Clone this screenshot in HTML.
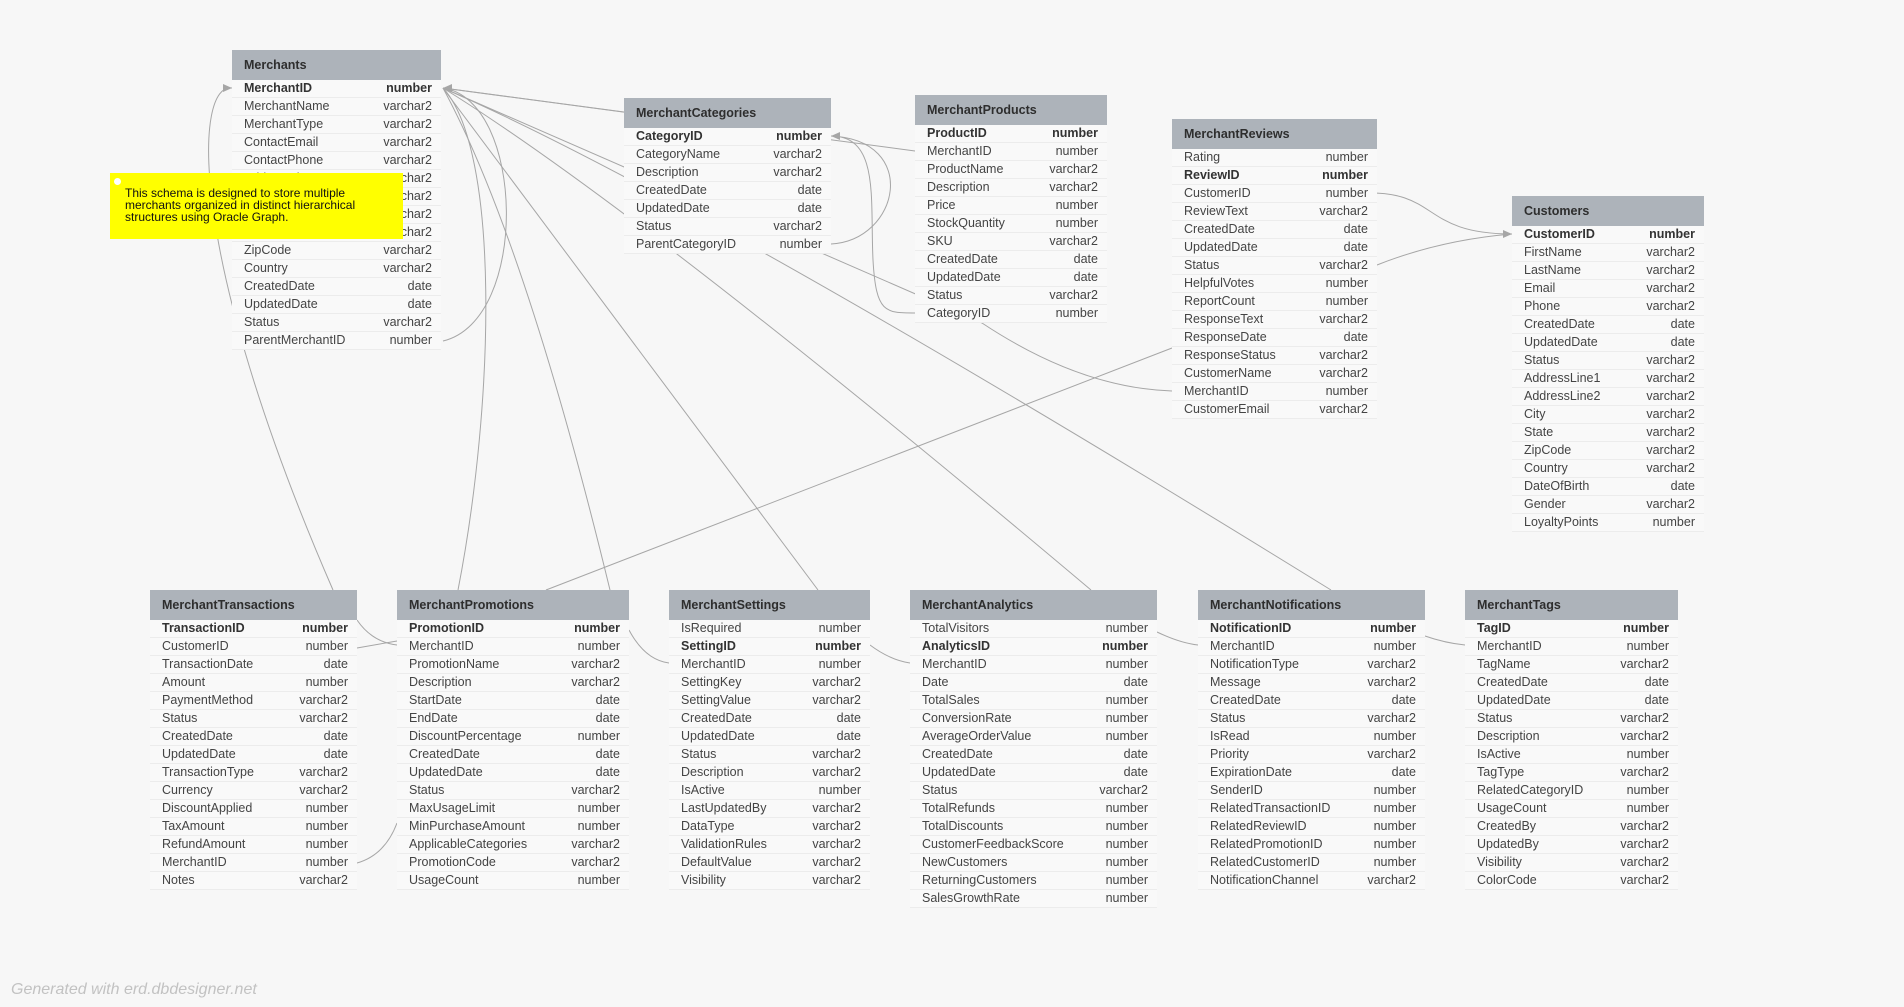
<!DOCTYPE html>
<html><head><meta charset="utf-8">
<style>
html,body{margin:0;padding:0;background:#f7f7f7;width:1904px;height:1007px;overflow:hidden;font-family:"Liberation Sans",sans-serif;}
#wires{position:absolute;left:0;top:0;}
.tbl{position:absolute;}
.hd{height:30px;background:#adb3ba;color:#2e2e2e;font-weight:bold;font-size:12.5px;line-height:30px;padding-left:12px;box-sizing:border-box;}
.row{height:18px;line-height:17px;font-size:12.5px;color:#444;border-bottom:1px solid #ececec;box-sizing:border-box;position:relative;background:#f9f9f9;}
.row .n{position:absolute;left:12px;}
.row .t{position:absolute;right:9px;}
.row.pk{font-weight:bold;color:#333;}
#note{position:absolute;left:110px;top:173px;width:293px;height:66px;background:#ffff00;font-size:12px;line-height:12px;color:#111;box-sizing:border-box;padding:14px 0 0 15px;}
#note .dot{position:absolute;left:4px;top:5px;width:7px;height:7px;border-radius:50%;background:#fff;}
#footer{position:absolute;left:11px;top:981px;font-size:16px;font-style:italic;color:#c2c2c2;}
</style></head>
<body>
<svg id="wires" width="1904" height="1007">
<g fill="none" stroke="#a6a6a6" stroke-width="1">
<path d="M443,88 L624,112"/>
<path d="M443,88 L915,151"/>
<path d="M443,88 L982,323 Q1080,388 1172,391"/>
<path d="M443,88 Q640,210 1091,590"/>
<path d="M443,88 Q700,200 1331,590"/>
<path d="M443,88 L818,590"/>
<path d="M443,88 Q525,240 610,590"/>
<path d="M443,88 C500,150 495,400 458,590"/>
<path d="M443,341 C530,320 525,100 443,88"/>
<path d="M232,88 C195,82 185,250 333,590"/>
<path d="M1172,348 L546,590"/>
<path d="M1362,193 C1440,190 1420,234 1512,234"/>
<path d="M1377,265 Q1440,240 1512,234"/>
<path d="M831,136 C880,136 870,200 873,260 C876,313 885,313 915,313"/>
<path d="M831,244 C900,240 920,140 831,136"/>
<path d="M357,648 L397,641"/>
<path d="M357,620 Q372,642 397,645"/>
<path d="M357,863 Q385,855 397,823"/>
<path d="M629,630 Q645,660 669,663"/>
<path d="M870,645 Q890,660 910,663"/>
<path d="M1157,632 Q1180,643 1198,645"/>
<path d="M1425,636 Q1445,643 1465,645"/>
</g>
<g fill="#a6a6a6">
<path d="M443,88 l9,-4 l0,8 z"/>
<path d="M232,88 l-9,-4 l0,8 z"/>
<path d="M1512,234 l-9,-4 l0,8 z"/>
<path d="M831,136 l9,-4 l0,8 z"/>
</g>
</svg>

<div id="note"><span class="dot"></span>This schema is designed to store multiple<br>merchants organized in distinct hierarchical<br>structures using Oracle Graph.</div>
<div id="footer">Generated with erd.dbdesigner.net</div>

<script>
const tables = [
 {name:"Merchants",x:232,y:50,w:209,pk:0,f:[["MerchantID","number"],["MerchantName","varchar2"],["MerchantType","varchar2"],["ContactEmail","varchar2"],["ContactPhone","varchar2"],["AddressLine1","varchar2"],["AddressLine2","varchar2"],["City","varchar2"],["State","varchar2"],["ZipCode","varchar2"],["Country","varchar2"],["CreatedDate","date"],["UpdatedDate","date"],["Status","varchar2"],["ParentMerchantID","number"]]},
 {name:"MerchantCategories",x:624,y:98,w:207,pk:0,f:[["CategoryID","number"],["CategoryName","varchar2"],["Description","varchar2"],["CreatedDate","date"],["UpdatedDate","date"],["Status","varchar2"],["ParentCategoryID","number"]]},
 {name:"MerchantProducts",x:915,y:95,w:192,pk:0,f:[["ProductID","number"],["MerchantID","number"],["ProductName","varchar2"],["Description","varchar2"],["Price","number"],["StockQuantity","number"],["SKU","varchar2"],["CreatedDate","date"],["UpdatedDate","date"],["Status","varchar2"],["CategoryID","number"]]},
 {name:"MerchantReviews",x:1172,y:119,w:205,pk:1,f:[["Rating","number"],["ReviewID","number"],["CustomerID","number"],["ReviewText","varchar2"],["CreatedDate","date"],["UpdatedDate","date"],["Status","varchar2"],["HelpfulVotes","number"],["ReportCount","number"],["ResponseText","varchar2"],["ResponseDate","date"],["ResponseStatus","varchar2"],["CustomerName","varchar2"],["MerchantID","number"],["CustomerEmail","varchar2"]]},
 {name:"Customers",x:1512,y:196,w:192,pk:0,f:[["CustomerID","number"],["FirstName","varchar2"],["LastName","varchar2"],["Email","varchar2"],["Phone","varchar2"],["CreatedDate","date"],["UpdatedDate","date"],["Status","varchar2"],["AddressLine1","varchar2"],["AddressLine2","varchar2"],["City","varchar2"],["State","varchar2"],["ZipCode","varchar2"],["Country","varchar2"],["DateOfBirth","date"],["Gender","varchar2"],["LoyaltyPoints","number"]]},
 {name:"MerchantTransactions",x:150,y:590,w:207,pk:0,f:[["TransactionID","number"],["CustomerID","number"],["TransactionDate","date"],["Amount","number"],["PaymentMethod","varchar2"],["Status","varchar2"],["CreatedDate","date"],["UpdatedDate","date"],["TransactionType","varchar2"],["Currency","varchar2"],["DiscountApplied","number"],["TaxAmount","number"],["RefundAmount","number"],["MerchantID","number"],["Notes","varchar2"]]},
 {name:"MerchantPromotions",x:397,y:590,w:232,pk:0,f:[["PromotionID","number"],["MerchantID","number"],["PromotionName","varchar2"],["Description","varchar2"],["StartDate","date"],["EndDate","date"],["DiscountPercentage","number"],["CreatedDate","date"],["UpdatedDate","date"],["Status","varchar2"],["MaxUsageLimit","number"],["MinPurchaseAmount","number"],["ApplicableCategories","varchar2"],["PromotionCode","varchar2"],["UsageCount","number"]]},
 {name:"MerchantSettings",x:669,y:590,w:201,pk:1,f:[["IsRequired","number"],["SettingID","number"],["MerchantID","number"],["SettingKey","varchar2"],["SettingValue","varchar2"],["CreatedDate","date"],["UpdatedDate","date"],["Status","varchar2"],["Description","varchar2"],["IsActive","number"],["LastUpdatedBy","varchar2"],["DataType","varchar2"],["ValidationRules","varchar2"],["DefaultValue","varchar2"],["Visibility","varchar2"]]},
 {name:"MerchantAnalytics",x:910,y:590,w:247,pk:1,f:[["TotalVisitors","number"],["AnalyticsID","number"],["MerchantID","number"],["Date","date"],["TotalSales","number"],["ConversionRate","number"],["AverageOrderValue","number"],["CreatedDate","date"],["UpdatedDate","date"],["Status","varchar2"],["TotalRefunds","number"],["TotalDiscounts","number"],["CustomerFeedbackScore","number"],["NewCustomers","number"],["ReturningCustomers","number"],["SalesGrowthRate","number"]]},
 {name:"MerchantNotifications",x:1198,y:590,w:227,pk:0,f:[["NotificationID","number"],["MerchantID","number"],["NotificationType","varchar2"],["Message","varchar2"],["CreatedDate","date"],["Status","varchar2"],["IsRead","number"],["Priority","varchar2"],["ExpirationDate","date"],["SenderID","number"],["RelatedTransactionID","number"],["RelatedReviewID","number"],["RelatedPromotionID","number"],["RelatedCustomerID","number"],["NotificationChannel","varchar2"]]},
 {name:"MerchantTags",x:1465,y:590,w:213,pk:0,f:[["TagID","number"],["MerchantID","number"],["TagName","varchar2"],["CreatedDate","date"],["UpdatedDate","date"],["Status","varchar2"],["Description","varchar2"],["IsActive","number"],["TagType","varchar2"],["RelatedCategoryID","number"],["UsageCount","number"],["CreatedBy","varchar2"],["UpdatedBy","varchar2"],["Visibility","varchar2"],["ColorCode","varchar2"]]}
];
function kebab(s){return s.replace(/([a-z0-9])([A-Z])/g,'$1-$2').toLowerCase();}
const noteEl=document.getElementById('note');
tables.forEach(t=>{
  const d=document.createElement('div');
  d.className='tbl';
  d.style.left=t.x+'px';d.style.top=t.y+'px';d.style.width=t.w+'px';
  
  
  const h=document.createElement('div');
  h.className='hd';h.textContent=t.name;
  
  
  d.appendChild(h);
  t.f.forEach((f,i)=>{
    const r=document.createElement('div');
    r.className='row'+(i===t.pk?' pk':'');
    r.innerHTML='<span class="n">'+f[0]+'</span><span class="t">'+f[1]+'</span>';
    
    
    d.appendChild(r);
  });
  document.body.insertBefore(d,noteEl);
});
</script>
</body></html>
